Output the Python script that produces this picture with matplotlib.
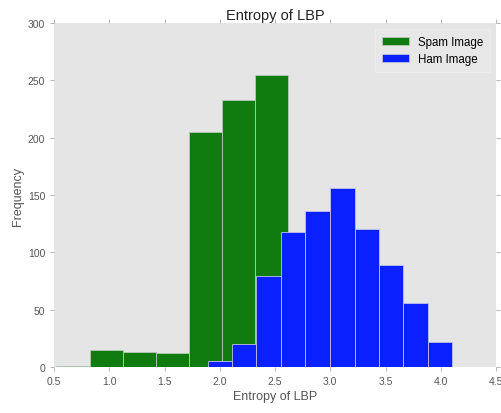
import numpy as np
import matplotlib
matplotlib.use("Agg")
import matplotlib.pyplot as plt

plt.rcParams["font.family"] = ["Liberation Sans", "DejaVu Sans"]

# histogram counts per bin
spam_edges = [0.52, 0.82, 1.12, 1.42, 1.72, 2.02, 2.32, 2.62]
spam_counts = [1, 15, 13, 12, 205, 233, 255]

ham_edges = [1.89, 2.11, 2.33, 2.55, 2.77, 3.00, 3.22, 3.44, 3.66, 3.88, 4.10]
ham_counts = [5, 20, 79, 118, 136, 156, 120, 89, 56, 22]

fig = plt.figure(figsize=(5.02, 4.14), dpi=100)
ax = fig.add_axes([0.108, 0.111, 0.880, 0.831])
ax.set_facecolor("#e5e5e5")

ax.bar(spam_edges[:-1], spam_counts, width=np.diff(spam_edges), align="edge",
       color="#107c10", edgecolor="#b5c8b5", linewidth=0.6, label="Spam Image")
ax.bar(ham_edges[:-1], ham_counts, width=np.diff(ham_edges), align="edge",
       color="#0a20ff", edgecolor="#c0c0e8", linewidth=0.6, label="Ham Image")

ax.set_xlim(0.5, 4.5)
ax.set_ylim(0, 300)
ax.set_xticks(np.arange(0.5, 4.51, 0.5))
ax.set_yticks(np.arange(0, 301, 50))

for s in ax.spines.values():
    s.set_visible(False)
ax.tick_params(axis="both", direction="out", length=3, width=0.6, color="#aaaaaa",
               labelsize=7.5, labelcolor="#555555", top=True, right=True)

ax.set_title("Entropy of LBP", fontsize=10.5, color="#222222", pad=3)
ax.set_xlabel("Entropy of LBP", fontsize=9, color="#555555", labelpad=3)
ax.set_ylabel("Frequency", fontsize=9, color="#555555", labelpad=3)

leg = ax.legend(loc="upper right", fontsize=8.3, frameon=True, fancybox=False,
                handlelength=2.3, borderpad=0.6)
leg.get_frame().set_facecolor("#e8e8e8")
leg.get_frame().set_edgecolor("#eeeeee")

fig.savefig("out.png", dpi=100)
